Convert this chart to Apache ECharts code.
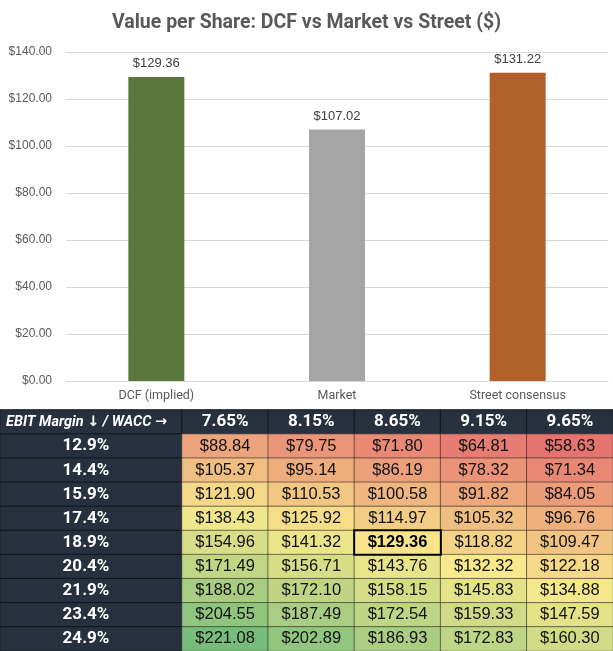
<!DOCTYPE html>
<html><head><meta charset="utf-8">
<script src="https://cdn.jsdelivr.net/npm/echarts@6/dist/echarts.min.js"></script>
<style>html,body{margin:0;padding:0;background:#fff}#c{width:613px;height:651px}</style>
</head><body><div id="c"></div>
<script>
// ---- bar chart data ----
const categories = ['DCF (implied)', 'Market', 'Street consensus'];
const barValues = [129.36, 107.02, 131.22];
const barColors = ['#5A773C', '#A5A5A5', '#B0602B'];
const yMin = 0, yMax = 140, yStep = 20;

// ---- sensitivity table data ----
const cornerLabel = 'EBIT Margin \u2193 / WACC \u2192';
const waccLabels = ['7.65%', '8.15%', '8.65%', '9.15%', '9.65%'];
const marginLabels = ['12.9%', '14.4%', '15.9%', '17.4%', '18.9%', '20.4%', '21.9%', '23.4%', '24.9%'];
const row129 = [88.84, 79.75, 71.80, 64.81, 58.63];
const row144 = [105.37, 95.14, 86.19, 78.32, 71.34];
const row159 = [121.90, 110.53, 100.58, 91.82, 84.05];
const row174 = [138.43, 125.92, 114.97, 105.32, 96.76];
const row189 = [154.96, 141.32, 129.36, 118.82, 109.47];
const row204 = [171.49, 156.71, 143.76, 132.32, 122.18];
const row219 = [188.02, 172.10, 158.15, 145.83, 134.88];
const row234 = [204.55, 187.49, 172.54, 159.33, 147.59];
const row249 = [221.08, 202.89, 186.93, 172.83, 160.30];
const tableRows = [row129, row144, row159, row174, row189, row204, row219, row234, row249];
const baseCase = { col: 2, row: 4 }; // 18.9% margin, 8.65% WACC

// ---- styling ----
const dark = '#27303F';
const FONT = 'Liberation Sans, Arial, sans-serif';
const TFONT = 'Roboto, "Liberation Sans", sans-serif';

function hex(c){return [parseInt(c.slice(1,3),16),parseInt(c.slice(3,5),16),parseInt(c.slice(5,7),16)];}
function mix(a,b,t){const A=hex(a),B=hex(b);return 'rgb('+A.map((v,i)=>Math.round(v+(B[i]-v)*t)).join(',')+')';}
const cRed='#E5736F', cYel='#F8E98C', cGrn='#78BC7B';
const stops=[];
for(let i=0;i<=5;i++) stops.push(mix(cRed,cYel,i/5));
for(let i=1;i<=6;i++) stops.push(mix(cYel,cGrn,i/6));

const allVals = tableRows.flat();
const rowCats = ['hdr'].concat(marginLabels);

const labelColData = [[0,0,0]].concat(marginLabels.map((m,i)=>[0,i+1,i+1]));
const headerData = waccLabels.map((w,c)=>[c,0,c]);
const valueData = [];
tableRows.forEach((r,ri)=>r.forEach((v,ci)=>{
  if(!(ri===baseCase.row && ci===baseCase.col)) valueData.push([ci,ri+1,v]);
}));
const baseData = [[baseCase.col, baseCase.row+1, tableRows[baseCase.row][baseCase.col]]];

const tableTop = 410, tableH = 242.5;

const chart = echarts.init(document.getElementById('c'), null, {renderer:'canvas'});
chart.setOption({
  backgroundColor:'#fff',
  animation:false,
  title:{text:'Value per Share: DCF vs Market vs Street ($)', left:'center', top:8,
    textStyle:{fontFamily:TFONT, fontWeight:'bold', fontSize:19.5, color:'#595959'}},
  grid:[
    {left:66, right:5, top:52, bottom:270},
    {left:0, width:182, top:tableTop, height:tableH},
    {left:182, right:0, top:tableTop, height:tableH}
  ],
  xAxis:[
    {gridIndex:0, type:'category', data:categories,
      axisLine:{lineStyle:{color:'#D9D9D9'}}, axisTick:{show:false},
      axisLabel:{color:'#595959', fontSize:12.5, fontFamily:TFONT, margin:8}},
    {gridIndex:1, type:'category', data:['lbl'], show:false},
    {gridIndex:2, type:'category', data:waccLabels, show:false}
  ],
  yAxis:[
    {gridIndex:0, type:'value', min:yMin, max:yMax, interval:yStep,
      axisLine:{show:false}, axisTick:{show:false},
      splitLine:{lineStyle:{color:'#D9D9D9'}},
      axisLabel:{color:'#595959', fontSize:12, fontFamily:FONT, margin:14,
        formatter:v=>'$'+v.toFixed(2)}},
    {gridIndex:1, type:'category', data:rowCats, inverse:true, show:false},
    {gridIndex:2, type:'category', data:rowCats, inverse:true, show:false}
  ],
  visualMap:{type:'continuous', show:false, seriesIndex:[3,4],
    min:Math.min(...allVals), max:Math.max(...allVals), inRange:{color:stops}},
  series:[
    {type:'bar', xAxisIndex:0, yAxisIndex:0, barWidth:56,
      data:barValues.map((v,i)=>({value:v, itemStyle:{color:barColors[i]}})),
      label:{show:true, position:'top', distance:7, color:'#404040', fontSize:13, fontFamily:FONT,
        formatter:p=>'$'+p.value.toFixed(2)}},
    {type:'heatmap', xAxisIndex:1, yAxisIndex:1, data:labelColData,
      itemStyle:{color:dark, borderColor:'#10151d', borderWidth:1},
      label:{show:true, color:'#fff', fontWeight:'bold', fontFamily:TFONT, fontSize:17, offset:[-5,0],
        formatter:p=>p.value[2]===0?'':marginLabels[p.value[2]-1]}},
    {type:'heatmap', xAxisIndex:2, yAxisIndex:2, data:headerData,
      itemStyle:{color:dark, borderColor:'#10151d', borderWidth:1},
      label:{show:true, color:'#fff', fontWeight:'bold', fontFamily:TFONT, fontSize:17,
        formatter:p=>waccLabels[p.value[2]]}},
    {type:'heatmap', xAxisIndex:2, yAxisIndex:2, data:valueData,
      itemStyle:{borderColor:'rgba(40,40,40,0.6)', borderWidth:1},
      label:{show:true, color:'#111', fontFamily:FONT, fontSize:16.5,
        formatter:p=>'$'+p.value[2].toFixed(2)}},
    {type:'heatmap', xAxisIndex:2, yAxisIndex:2, data:baseData,
      itemStyle:{borderColor:'#000', borderWidth:2},
      label:{show:true, color:'#000', fontWeight:'bold', fontFamily:FONT, fontSize:16.5,
        formatter:p=>'$'+p.value[2].toFixed(2)}}
  ],
  graphic:[
    {type:'text', left:6, top:tableTop+5, z:100,
      style:{text:cornerLabel, fill:'#fff', font:'italic bold 14.5px Roboto, "DejaVu Sans", sans-serif'}}
  ]
});
</script></body></html>
